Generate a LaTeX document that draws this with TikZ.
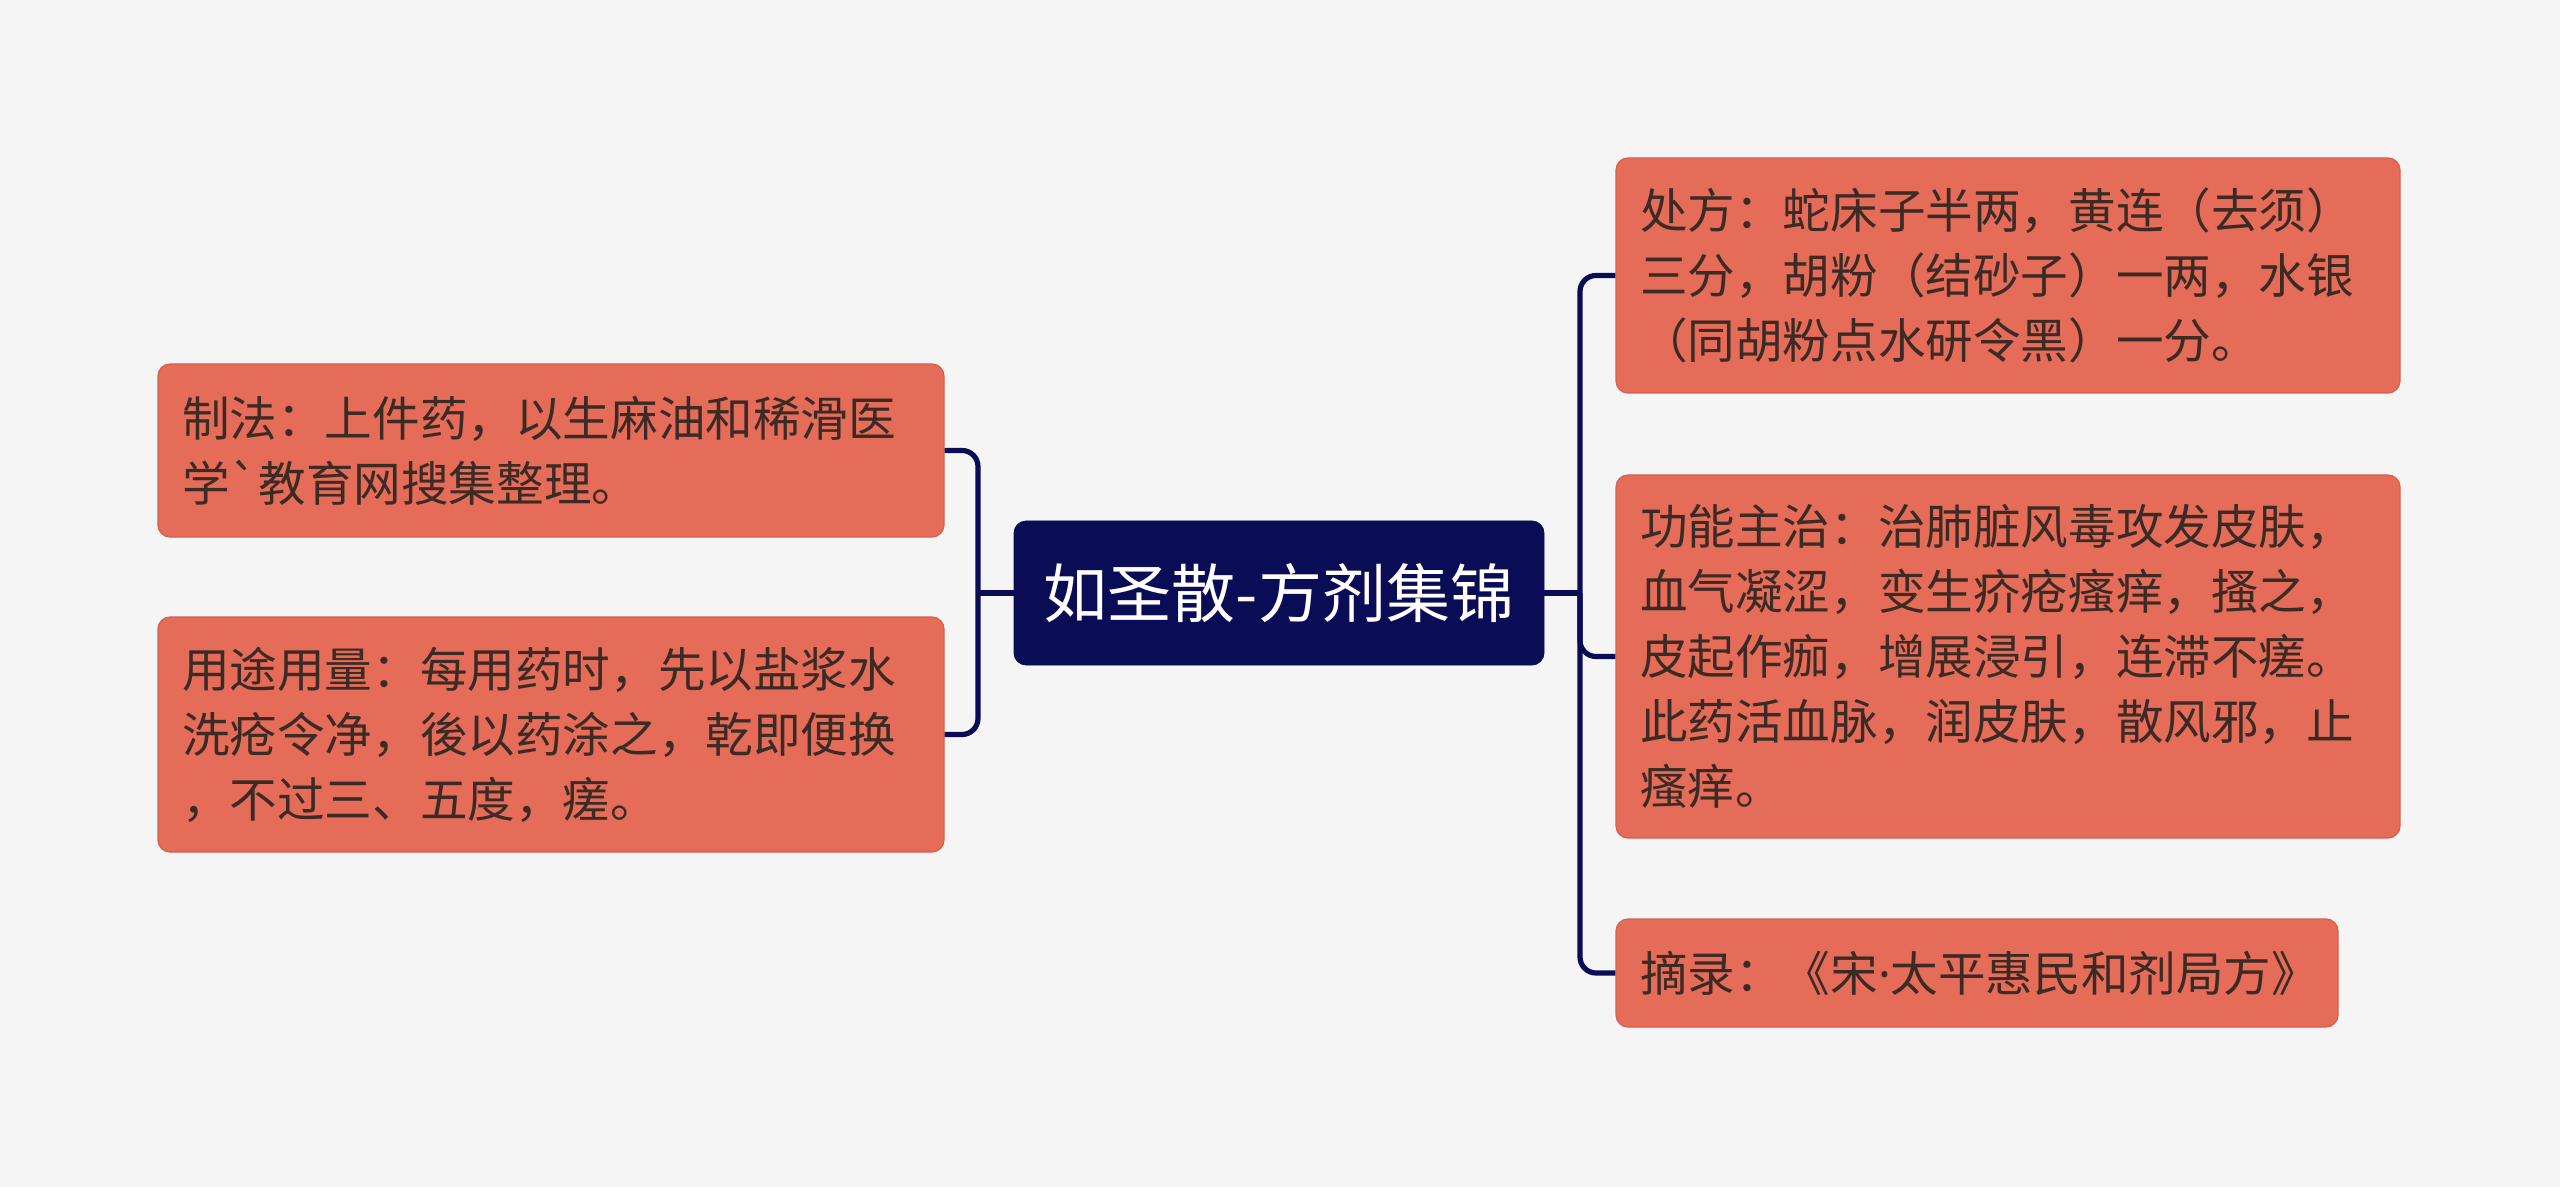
\documentclass[tikz,border=0pt]{standalone}
\usepackage{fontspec}
\setmainfont{Noto Sans CJK SC}[Ligatures=TeXOff]
\newfontfamily\latinfont{Noto Sans}
\usepackage{xcolor}
\definecolor{bgcolor}{RGB}{245, 245, 245}
\definecolor{rootcolor}{RGB}{10, 13, 86}
\definecolor{leafcolor}{RGB}{228, 108, 89}
\definecolor{leafborder}{RGB}{214, 96, 78}
\definecolor{textcolor}{RGB}{60, 42, 36}

\begin{document}
\begin{tikzpicture}[x=0.5pt, y=-0.5pt,
        root/.style={fill=rootcolor, draw=rootcolor, rounded corners=6pt, text=white,
                minimum width=265pt, minimum height=72pt, inner sep=0pt,
                font=\fontsize{32}{38}\selectfont},
        leaf/.style={fill=leafcolor, draw=leafborder, line width=0.6pt, rounded corners=6pt,
                text=textcolor, align=left, inner xsep=12pt, inner ysep=0pt,
                font=\fontsize{23.8}{32.5}\selectfont},
        link/.style={draw=rootcolor, line width=2.6pt, rounded corners=8pt}]
        \useasboundingbox[fill=bgcolor] (0, 0) rectangle (2560, 1187); % page in pixels

        % Centre
        \node[root] (root) at (1279, 593) {如圣散-方剂集锦};

        % Left branch
        \node[leaf, text width=369pt, minimum height=86.5pt] (zhifa) at (551, 450.5)
                {制法：上件药，以生麻油和稀滑医\\学\symbol{96}教育网搜集整理。};
        \node[leaf, text width=369pt, minimum height=117.5pt] (yongtu) at (551, 734.5)
                {用途用量：每用药时，先以盐浆水\\洗疮令净，後以药涂之，乾即便换\\，不过三、五度，瘥。};

        % Right branch
        \node[leaf, text width=368pt, minimum height=117.5pt] (chufang) at (2008, 275.5)
                {处方：蛇床子半两，黄连（去须）\\三分，胡粉（结砂子）一两，水银\\（同胡粉点水研令黑）一分。};
        \node[leaf, text width=368pt, minimum height=181.5pt] (gongneng) at (2008, 656.5)
                {功能主治：治肺脏风毒攻发皮肤，\\血气凝涩，变生疥疮瘙痒，搔之，\\皮起作痂，增展浸引，连滞不瘥。\\此药活血脉，润皮肤，散风邪，止\\瘙痒。};
        \node[leaf, text width=337pt, minimum height=54pt] (zhailu) at (1977, 973)
                {摘录：《宋{\latinfont ·}太平惠民和剂局方》};

        % Connectors {{{
        \coordinate (lj) at (978, 593);
        \coordinate (rj) at (1580, 593);
        \draw[link] (root.west) -- (lj);
        \draw[link] (zhifa.east) -| (lj) |- (yongtu.east);
        \draw[link] (root.east) -- (rj);
        \draw[link] (chufang.west) -| (rj) |- (zhailu.west);
        \draw[link] (rj) |- (gongneng.west);
        % }}}
\end{tikzpicture}
\end{document}
